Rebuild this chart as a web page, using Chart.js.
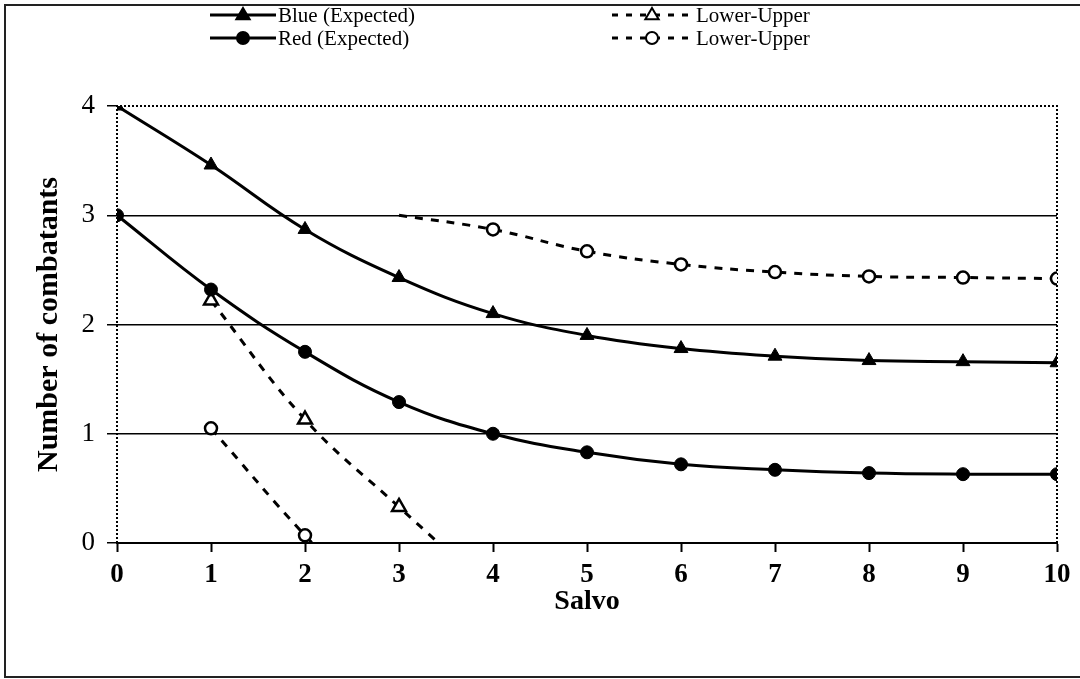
<!DOCTYPE html>
<html>
<head>
<meta charset="utf-8">
<script src="https://cdn.jsdelivr.net/npm/chart.js@4"></script>
<style>
html,body{margin:0;padding:0;background:#fff;}
#wrap{position:relative;width:1080px;height:679px;}
</style>
</head>
<body>
<div id="wrap"><canvas id="salvoChart" width="1080" height="679"></canvas></div>
<script>
/* data */
const salvo = [0,1,2,3,4,5,6,7,8,9,10];
const blueExpected = [4.00,3.46,2.87,2.43,2.10,1.90,1.78,1.71,1.67,1.66,1.65];
const redExpected  = [3.00,2.32,1.75,1.29,1.00,0.83,0.72,0.67,0.64,0.63,0.63];
const blueLower    = [null,2.22,1.13,0.33,-0.45,null,null,null,null,null,null];
const redLower     = [null,1.05,0.07,-0.80,null,null,null,null,null,null,null];
const redUpper     = [null,null,null,3.00,2.87,2.67,2.55,2.48,2.44,2.43,2.42];
const yTicks = [0,1,2,3,4];

const seriesNames = ["Blue (Expected)","Red (Expected)","Lower-Upper","Lower-Upper"];

const serif = "'Liberation Serif','Times New Roman',serif";

function pts(arr){
  return salvo.map((s,i)=>({x:s,y:arr[i]}));
}

/* frame, dotted top/right/left border */
const framePlugin = {
  id:"frame",
  beforeDraw(chart){
    const c = chart.ctx;
    c.save();
    c.strokeStyle="#222";
    c.lineWidth=2;
    c.beginPath();
    c.moveTo(1080,5);c.lineTo(5,5);c.lineTo(5,677);c.lineTo(1080,677);
    c.stroke();
    c.restore();
  },
  beforeDatasetsDraw(chart){
    const a = chart.chartArea, c = chart.ctx;
    c.save();
    c.strokeStyle="#000";
    c.lineWidth=2;
    c.setLineDash([2,2]);
    c.beginPath();
    c.moveTo(a.left,a.bottom);c.lineTo(a.left,a.top);c.lineTo(a.right,a.top);c.lineTo(a.right,a.bottom);
    c.stroke();
    c.restore();
  }
};

/* legend drawn as two columns */
function drawMarker(c,style,x,y,r,fill){
  c.save();
  c.setLineDash([]);
  c.lineWidth=2;
  c.strokeStyle="#000";
  c.fillStyle=fill;
  c.beginPath();
  if(style==="triangle"){
    c.moveTo(x,y-r);c.lineTo(x+r*0.95,y+r*0.6);c.lineTo(x-r*0.95,y+r*0.6);c.closePath();
  }else{
    c.arc(x,y,r,0,Math.PI*2);
  }
  c.fill();c.stroke();
  c.restore();
}

const legendPlugin = {
  id:"twoColLegend",
  afterDraw(chart){
    const c = chart.ctx;
    const items = [
      {ds:0,x:210,y:15},
      {ds:1,x:210,y:38},
      {ds:2,x:612,y:15},
      {ds:3,x:612,y:38}
    ];
    c.save();
    items.forEach(it=>{
      const d = chart.data.datasets[it.ds];
      const dashedItem = !!d.borderDash;
      c.strokeStyle="#000";
      c.lineWidth=d.borderWidth;
      c.setLineDash(dashedItem?[6,8]:[]);
      c.beginPath();
      c.moveTo(it.x,it.y);c.lineTo(it.x+(dashedItem?76:66),it.y);
      c.stroke();
      drawMarker(c,d.pointStyle,it.x+(dashedItem?40:33),it.y,d.pointStyle==="triangle"?7:6,d.pointBackgroundColor);
      c.setLineDash([]);
      c.fillStyle="#000";
      c.font="21px "+serif;
      c.textBaseline="middle";
      c.fillText(seriesNames[it.ds],it.x+(dashedItem?84:68),it.y+1);
    });
    c.restore();
  }
};

const dashed = [8,8];

new Chart(document.getElementById("salvoChart"),{
  type:"line",
  data:{
    datasets:[
      {label:seriesNames[0],data:pts(blueExpected),borderColor:"#000",borderWidth:3,
       pointStyle:"triangle",pointRadius:8,pointBackgroundColor:"#000",pointBorderColor:"#000",pointBorderWidth:1,tension:0.4},
      {label:seriesNames[1],data:pts(redExpected),borderColor:"#000",borderWidth:3,
       pointStyle:"circle",pointRadius:6.5,pointBackgroundColor:"#000",pointBorderColor:"#000",pointBorderWidth:1,tension:0.4},
      {label:seriesNames[2],data:pts(blueLower),borderColor:"#000",borderWidth:3,borderDash:dashed,
       pointStyle:"triangle",pointRadius:8,pointBackgroundColor:"#fff",pointBorderColor:"#000",pointBorderWidth:2.5,tension:0.4},
      {label:seriesNames[3],data:pts(redLower),borderColor:"#000",borderWidth:3,borderDash:dashed,
       pointStyle:"circle",pointRadius:6,pointBackgroundColor:"#fff",pointBorderColor:"#000",pointBorderWidth:2.5,tension:0.4},
      {label:seriesNames[3],data:pts(redUpper),borderColor:"#000",borderWidth:3,borderDash:dashed,
       pointStyle:"circle",pointRadius:ctx=>ctx.dataIndex===3?0:6,pointBackgroundColor:"#fff",pointBorderColor:"#000",pointBorderWidth:2.5,tension:0.4}
    ]
  },
  options:{
    responsive:false,
    animation:false,
    events:[],
    layout:{padding:{left:0,right:23,top:106,bottom:56}},
    plugins:{legend:{display:false},tooltip:{enabled:false}},
    scales:{
      x:{
        type:"linear",min:0,max:10,
        afterFit(s){s.height=80;},
        afterBuildTicks(s){s.ticks=salvo.map(v=>({value:v}));},
        ticks:{color:"#000",padding:7,font:{family:serif,size:27,weight:"bold"},maxRotation:0},
        grid:{drawOnChartArea:false,tickLength:9,tickColor:"#000",tickWidth:2},
        border:{color:"#000",width:2},
        title:{display:true,text:"Salvo",color:"#000",padding:{top:0,bottom:4},
               font:{family:serif,size:28,weight:"bold"}}
      },
      y:{
        min:0,max:4,
        afterFit(s){s.width=117;},
        afterBuildTicks(s){s.ticks=yTicks.map(v=>({value:v}));},
        ticks:{color:"#000",padding:12,font:{family:serif,size:27}},
        grid:{
          color:ctx=>(ctx.tick&&ctx.tick.value>0&&ctx.tick.value<4)?"#000":"rgba(0,0,0,0)",
          lineWidth:1.5,tickLength:10,tickColor:"#000",tickWidth:1.5
        },
        border:{display:false},
        title:{display:true,text:"Number of combatants",color:"#000",padding:{top:31,bottom:0},
               font:{family:serif,size:30,weight:"bold"}}
      }
    }
  },
  plugins:[framePlugin,legendPlugin]
});
</script>
</body>
</html>
